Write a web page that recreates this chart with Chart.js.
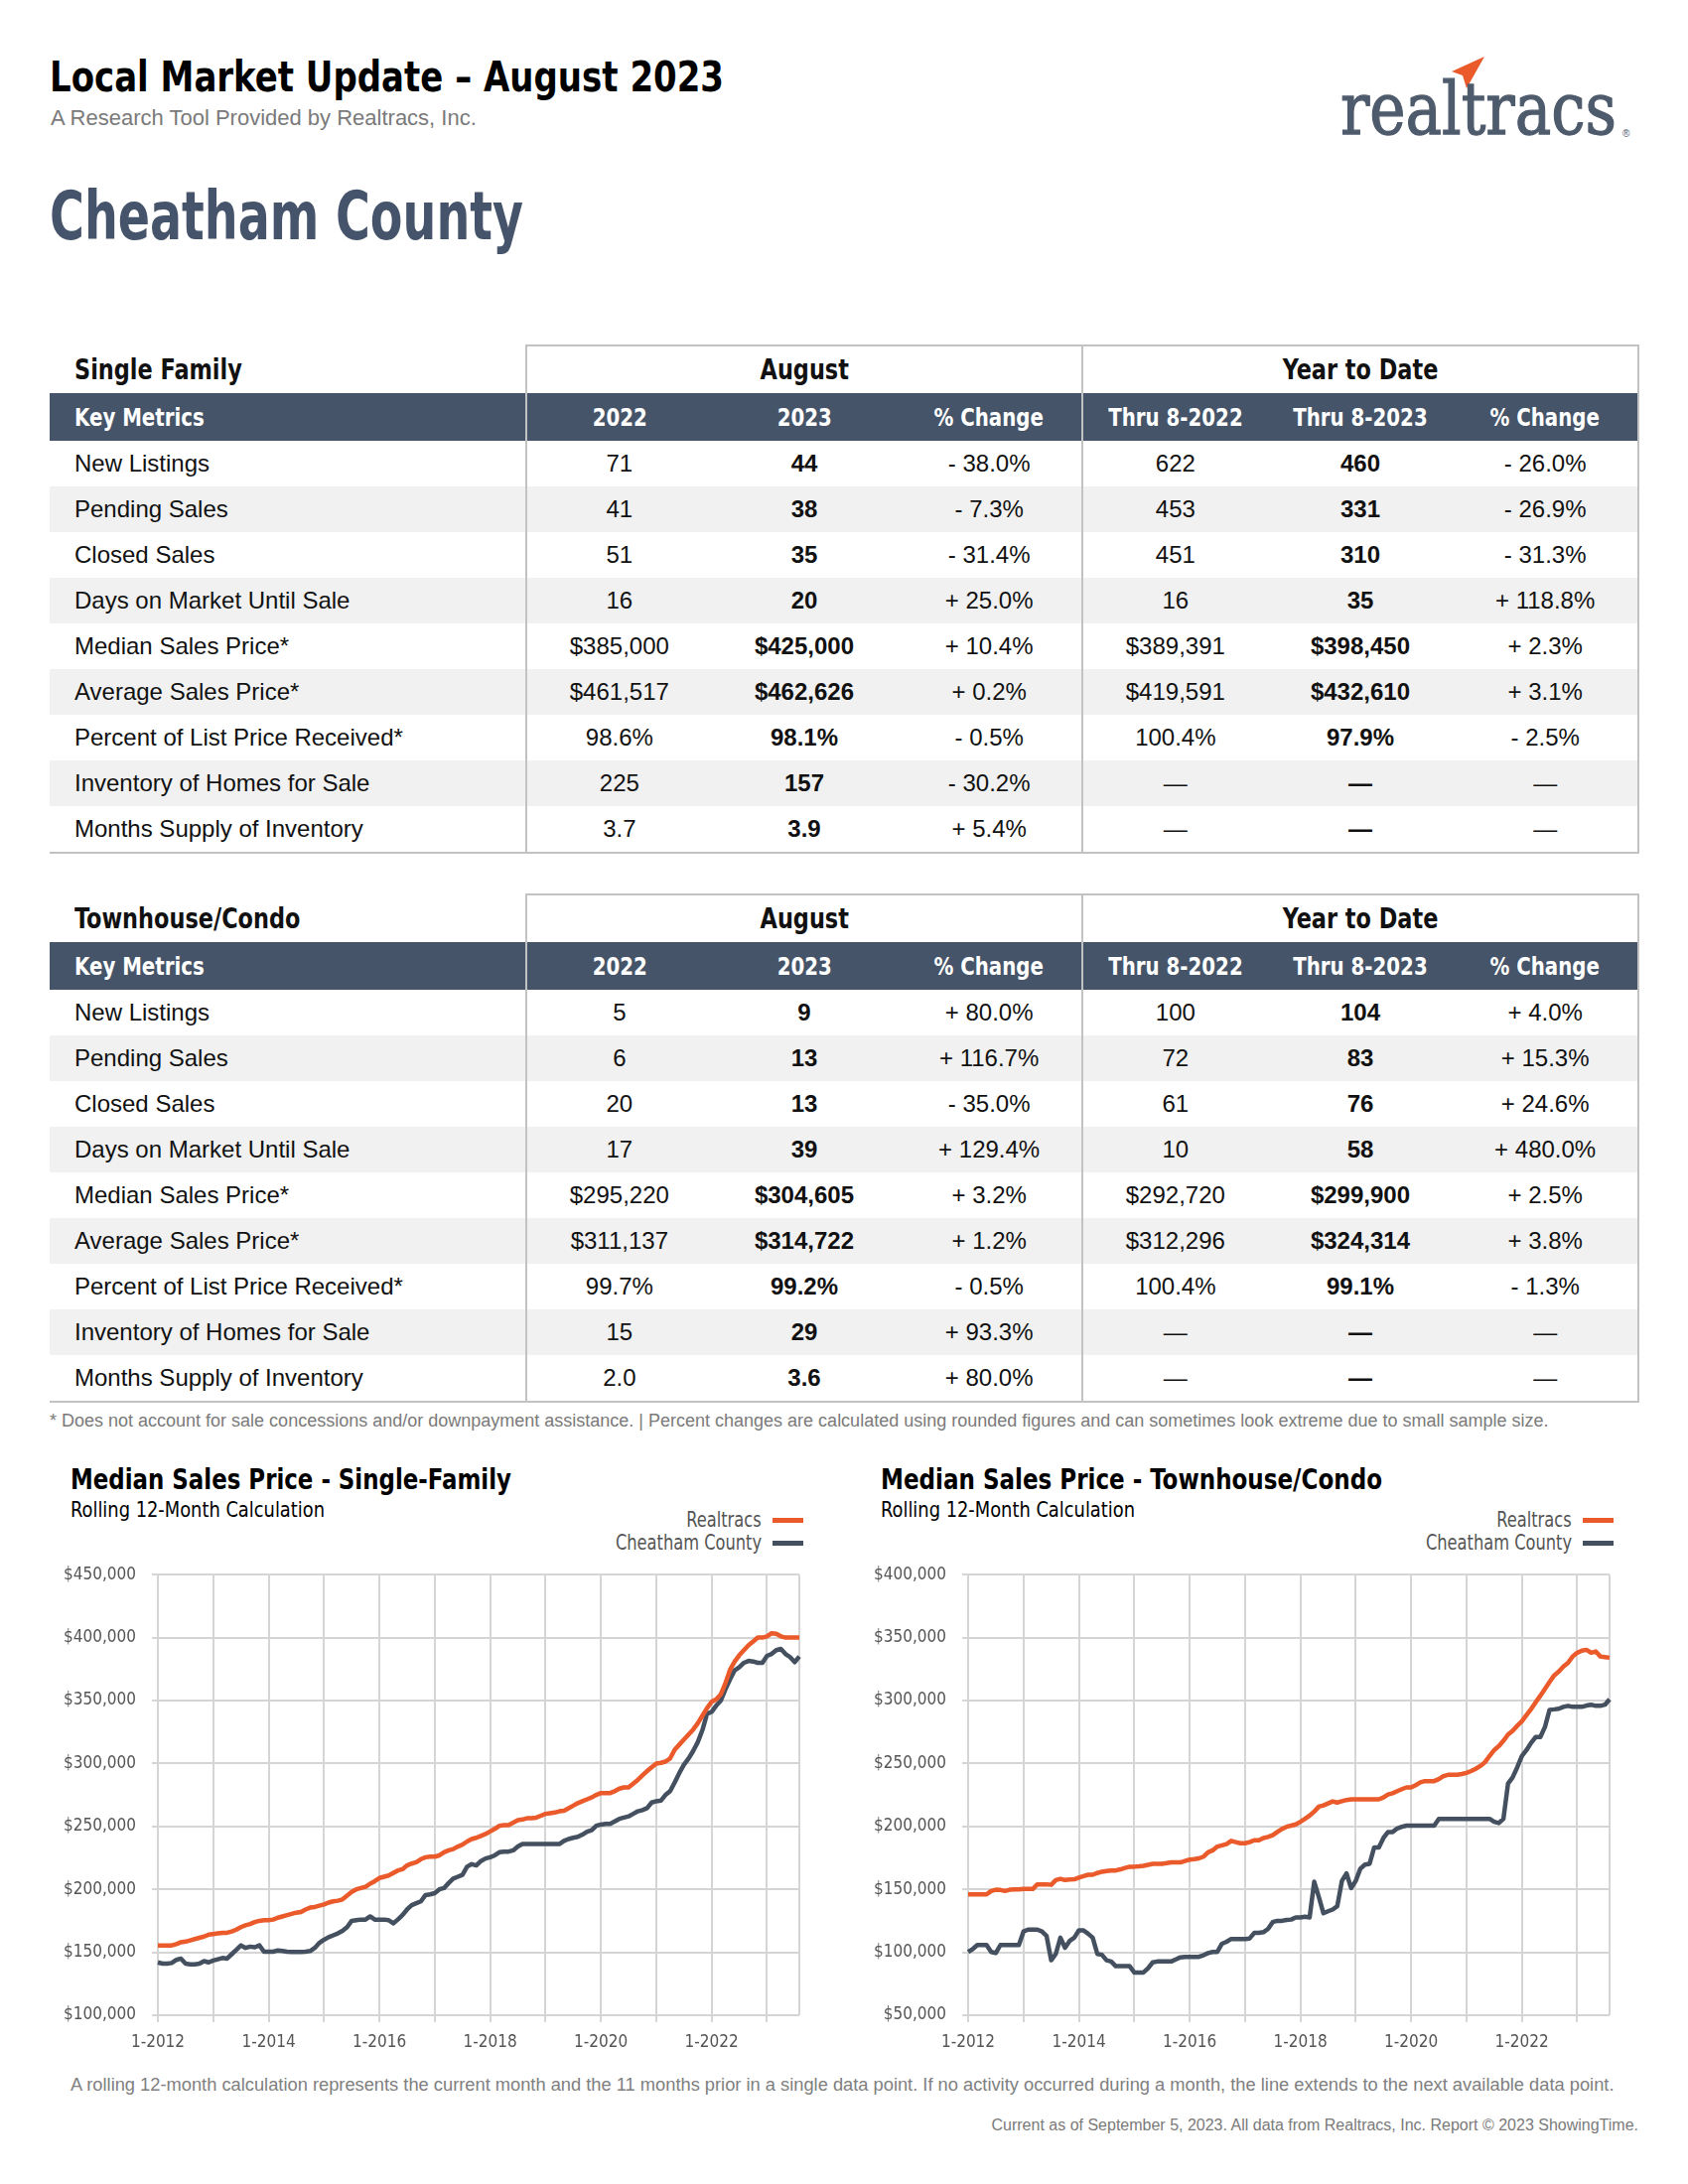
<!DOCTYPE html>
<html>
<head>
<meta charset="utf-8">
<script src="https://cdn.jsdelivr.net/npm/chart.js@4.4.0/dist/chart.umd.min.js"></script>
<style>
  body { margin: 0; background: #fff; }
  #page { position: relative; width: 1700px; height: 2200px; overflow: hidden; font-family: 'Liberation Sans', Arial, sans-serif; color: #111; }
  .abs { position: absolute; line-height: 1; white-space: nowrap; }
  .cond { font-family: 'Liberation Sans Narrow', 'DejaVu Sans Condensed', 'Arial Narrow', sans-serif; }
  .fit { display: inline-block; transform-origin: left top; }
  table.kt { position: absolute; left: 50px; width: 1600px; border-collapse: collapse; table-layout: fixed; font-size: 24px; }
  table.kt td { padding: 0; text-align: center; vertical-align: middle; height: 46px; white-space: nowrap; }
  table.kt tr.top td { height: 47px; font-weight: bold; font-size: 28px; }
  table.kt tr.bar td { height: 48px; background: #455468; color: #fff; font-weight: bold; font-size: 25px; }
  table.kt tr.alt td { background: #f1f1f1; }
  table.kt td.name { text-align: left; padding-left: 25px; }
  table.kt td.dv { border-left: 2px solid #c2c2c2; }
  table.kt td.rb { border-right: 2px solid #c2c2c2; }
  table.kt td.tb { border-top: 2px solid #c2c2c2; }
  table.kt tr.last td { border-bottom: 2px solid #c2c2c2; }
  table.kt td.b { font-weight: bold; }
  .sq { display: inline-block; transform: scaleX(0.88); }
  tr.top .sq { transform: scaleX(0.89); }
  td.name .sq { transform-origin: left center; }
  .legend { position: absolute; font-size: 21px; color: #555; text-align: right; line-height: 23px; }
  .legend div { display: flex; justify-content: flex-end; align-items: center; }
  .legend span.tx { display: inline-block; transform: scaleX(0.86); transform-origin: right center; }
  .legend span.ln { display: inline-block; width: 31px; height: 5px; margin-left: 11px; }
</style>
</head>
<body>
<div id="page">
  <div class="abs cond" style="left:50px; top:57px; font-size:42px; font-weight:bold; color:#000;"><span class="fit" data-w="679">Local Market Update – August 2023</span></div>
  <div class="abs" style="left:51px; top:108px; font-size:22px; color:#7a7a7a;">A Research Tool Provided by Realtracs, Inc.</div>

  <svg class="abs" style="left:1455px; top:50px;" width="50" height="45" viewBox="0 0 50 45">
    <polygon points="40,7 7,22 18,26 22,39" fill="#ea5a2a"/>
  </svg>
  <div class="abs" style="left:1350px; top:74px; font-family:'DejaVu Serif', serif; font-size:72px; color:#4e5b6c; -webkit-text-stroke:1.3px #4e5b6c;"><span class="fit" data-w="278">realtracs</span></div>
  <div class="abs" style="left:1634px; top:130px; font-size:10px; color:#4e5b6c;">®</div>

  <div class="abs cond" style="left:50px; top:184px; font-size:68px; font-weight:bold; color:#45546a;"><span class="fit" data-w="477">Cheatham County</span></div>

  <table class="kt" id="tblSF" style="top:347px;"></table>
  <table class="kt" id="tblTC" style="top:900px;"></table>

  <div class="abs" style="left:50px; top:1422px; font-size:18px; color:#7a7a7a;">* Does not account for sale concessions and/or downpayment assistance. | Percent changes are calculated using rounded figures and can sometimes look extreme due to small sample size.</div>

  <div class="abs cond" style="left:71px; top:1476px; font-size:29px; font-weight:bold; color:#000;"><span class="fit" data-w="444">Median Sales Price - Single-Family</span></div>
  <div class="abs cond" style="left:71px; top:1510px; font-size:22px; color:#000;"><span class="fit" data-w="256">Rolling 12-Month Calculation</span></div>
  <div class="legend cond" style="right:891px; top:1520px;">
    <div><span class="tx">Realtracs</span><span class="ln" style="background:#ea5a2a"></span></div>
    <div><span class="tx">Cheatham County</span><span class="ln" style="background:#44505f"></span></div>
  </div>
  <canvas id="chartSF" class="abs" style="left:40px; top:1560px;" width="775" height="520"></canvas>

  <div class="abs cond" style="left:887px; top:1476px; font-size:29px; font-weight:bold; color:#000;"><span class="fit" data-w="505">Median Sales Price - Townhouse/Condo</span></div>
  <div class="abs cond" style="left:887px; top:1510px; font-size:22px; color:#000;"><span class="fit" data-w="256">Rolling 12-Month Calculation</span></div>
  <div class="legend cond" style="right:75px; top:1520px;">
    <div><span class="tx">Realtracs</span><span class="ln" style="background:#ea5a2a"></span></div>
    <div><span class="tx">Cheatham County</span><span class="ln" style="background:#44505f"></span></div>
  </div>
  <canvas id="chartTC" class="abs" style="left:856px; top:1560px;" width="775" height="520"></canvas>

  <div class="abs" style="left:71px; top:2091px; font-size:18.3px; color:#808080;">A rolling 12-month calculation represents the current month and the 11 months prior in a single data point. If no activity occurred during a month, the line extends to the next available data point.</div>
  <div class="abs" style="right:50px; top:2133px; font-size:16px; color:#7a7a7a;">Current as of September 5, 2023. All data from Realtracs, Inc. Report © 2023 ShowingTime.</div>
</div>

<script>
// ---- table data ----
const metricNames = ['New Listings', 'Pending Sales', 'Closed Sales', 'Days on Market Until Sale', 'Median Sales Price*',
    'Average Sales Price*', 'Percent of List Price Received*', 'Inventory of Homes for Sale', 'Months Supply of Inventory'];

const sfAug2022 = ['71', '41', '51', '16', '$385,000', '$461,517', '98.6%', '225', '3.7'];
const sfAug2023 = ['44', '38', '35', '20', '$425,000', '$462,626', '98.1%', '157', '3.9'];
const sfAugChg = ['- 38.0%', '- 7.3%', '- 31.4%', '+ 25.0%', '+ 10.4%', '+ 0.2%', '- 0.5%', '- 30.2%', '+ 5.4%'];
const sfYtd2022 = ['622', '453', '451', '16', '$389,391', '$419,591', '100.4%', '—', '—'];
const sfYtd2023 = ['460', '331', '310', '35', '$398,450', '$432,610', '97.9%', '—', '—'];
const sfYtdChg = ['- 26.0%', '- 26.9%', '- 31.3%', '+ 118.8%', '+ 2.3%', '+ 3.1%', '- 2.5%', '—', '—'];

const tcAug2022 = ['5', '6', '20', '17', '$295,220', '$311,137', '99.7%', '15', '2.0'];
const tcAug2023 = ['9', '13', '13', '39', '$304,605', '$314,722', '99.2%', '29', '3.6'];
const tcAugChg = ['+ 80.0%', '+ 116.7%', '- 35.0%', '+ 129.4%', '+ 3.2%', '+ 1.2%', '- 0.5%', '+ 93.3%', '+ 80.0%'];
const tcYtd2022 = ['100', '72', '61', '10', '$292,720', '$312,296', '100.4%', '—', '—'];
const tcYtd2023 = ['104', '83', '76', '58', '$299,900', '$324,314', '99.1%', '—', '—'];
const tcYtdChg = ['+ 4.0%', '+ 15.3%', '+ 24.6%', '+ 480.0%', '+ 2.5%', '+ 3.8%', '- 1.3%', '—', '—'];

// ---- chart data (rolling 12-month median, $ thousands), 1-2012 .. 8-2023 ----
const sfRealtracs = [
    155.5, 155.5, 155.5, 155.5, 156.5, 158, 158.5, 159.5, 160.5, 161.5, 162.5, 164,
    164.5, 165, 165.5, 165.5, 166.5, 168, 170, 171.5, 172.5, 174, 175, 175.5,
    175.5, 176, 177.5, 178.5, 179.5, 180.5, 181.5, 182, 184, 185.5, 186, 187,
    188, 189.5, 190.5, 191, 192, 195, 198, 200, 201, 202, 204.5, 206.5,
    209, 210, 211, 213, 215, 216, 219, 220.5, 221.5, 224, 225.5, 226,
    226, 227, 229.5, 231, 232, 234, 235.5, 238, 240, 241, 242.5, 244,
    246, 248, 250.5, 251, 251, 253, 255, 255.5, 256.5, 256.5, 257, 258.5,
    260, 260.5, 261, 262, 262.5, 264.5, 266.5, 268.5, 270, 271.5, 273, 275,
    276.5, 276.5, 276.5, 278, 280, 281, 281, 284, 287, 290.5, 294, 297,
    300, 300.5, 301.5, 304, 311, 315, 319, 323, 327, 332, 338, 344,
    349, 351, 355, 364, 374.5, 381, 386, 390, 394, 397, 400, 400,
    401, 403.5, 403, 401, 400, 400, 400, 400
];
const sfCounty = [
    142, 141, 141, 141.5, 144, 145, 141, 140.5, 140.5, 141, 143, 142,
    143.5, 144.5, 145.5, 145, 148.5, 152, 155.5, 153.5, 154.5, 154, 155.5, 150.5,
    150.5, 150.5, 151.5, 151, 150.5, 150.2, 150.2, 150.2, 150.5, 151, 153.5, 157.5,
    160, 162, 163.5, 165, 167, 170, 175, 175.5, 176, 176, 178.5, 176,
    176, 176, 175.5, 173, 176, 179.5, 184, 187.5, 189, 190.5, 195.5, 196,
    197, 200, 201, 205, 208.5, 210, 211.5, 218, 220, 219, 222.5, 224.5,
    225.5, 227, 229.5, 230, 230, 231, 234, 236, 236, 236, 236, 236,
    236, 236, 236, 236, 238.5, 240, 241, 241.7, 243.5, 245.8, 247, 250.5,
    251.5, 252, 252, 254, 256, 257, 258, 260, 262, 263, 264.5, 269,
    270, 270.5, 275, 278, 285, 292.5, 299, 304, 310, 317, 326.5, 339.5,
    341, 346, 350, 359, 367, 374, 376.5, 380, 381.5, 381, 380, 380,
    385.5, 387, 390, 391, 387, 384.5, 380.5, 385
];
const tcRealtracs = [
    146, 146, 146, 146, 146, 148.7, 149.7, 149.5, 148.7, 149.7, 150, 150,
    150.3, 150.3, 150.3, 154, 154, 154, 153.6, 157.4, 158.4, 157.4, 157.8, 158,
    159.4, 160.5, 161.6, 161.6, 163, 164, 164.5, 164.9, 165, 165.9, 167, 168,
    168, 168.3, 168.7, 169.5, 170.3, 170.3, 170.3, 170.8, 171.4, 171.4, 171.4, 172.5,
    173.6, 174, 174.6, 176, 179.4, 181, 184, 185, 186, 188.5, 187.5, 186.6,
    186.6, 187.5, 189, 189, 190.8, 191.7, 193, 195.6, 198, 199.7, 200.6, 201.6,
    203.7, 206, 208.6, 211.8, 215.7, 216.7, 218.3, 219.9, 219, 220, 221, 221.5,
    221.5, 221.5, 221.5, 221.5, 221.5, 221.5, 223, 225.4, 226.4, 228, 229.6, 231,
    231, 232.8, 235, 236, 236, 236, 237.6, 240, 241, 241, 241, 241.6,
    242.5, 244, 245.8, 248, 251, 256, 260.6, 263.8, 268, 273, 276, 280,
    283.5, 288.4, 293.2, 298.7, 303.8, 309.3, 314.8, 320, 323, 327, 330, 335,
    338, 339.6, 340.3, 338, 339, 335, 334.5, 334
];
const tcCounty = [
    100.3, 102.6, 105.8, 105.8, 105.8, 100.3, 99.4, 105.8, 105.8, 105.8, 105.8, 105.8,
    116.5, 118, 118, 118, 116.5, 113, 93.7, 98.7, 111.6, 103.6, 109, 111.6,
    117.4, 117.4, 114.8, 111.6, 98.7, 98, 93.7, 92.7, 89, 89, 89, 89,
    84, 84, 84, 87.4, 92, 92.7, 92.7, 92.7, 92.7, 94.4, 96, 96.4,
    96.4, 96.4, 96.4, 97.7, 99.4, 100.3, 100.3, 106.8, 108.4, 110.6, 110.6, 110.6,
    110.6, 111, 115.4, 115.4, 116, 118.6, 124, 125, 125, 125.7, 126, 127.7,
    127.7, 128.3, 127.7, 156, 144, 131, 132.6, 134, 136.7, 156.8, 162.6, 151,
    156.8, 166.4, 169.7, 170.3, 183.3, 183.3, 190.8, 195.6, 195.6, 198.4, 199.7, 200.6,
    200.6, 200.6, 200.6, 200.6, 200.6, 200.6, 206, 206, 206, 206, 206, 206,
    206, 206, 206, 206, 206, 206, 203.7, 202.7, 206, 234, 239, 247,
    256, 260.6, 266.4, 271, 271, 279, 292.6, 293, 293.5, 295, 295.8, 295,
    295, 295, 296, 296.7, 295.8, 295.8, 296.7, 301
];

const tickLabels = ['1-2012', '1-2014', '1-2016', '1-2018', '1-2020', '1-2022'];
const sfAxis = [100, 450];
const tcAxis = [50, 400];

// month categories 1-2012 .. 8-2023
const months = [];
for (let y = 2012; y <= 2023; y++) {
    for (let m = 1; m <= 12; m++) {
        if (y === 2023 && m > 8) break;
        months.push(m + '-' + y);
    }
}

function sq(txt) {
    return '<span class="sq">' + txt + '</span>';
}

function buildTable(id, title, cols) {
    const t = document.getElementById(id);
    let html = '<colgroup><col style="width:480px">';
    for (let i = 0; i < 6; i++) html += '<col style="width:186.66px">';
    html += '</colgroup>';
    html += '<tr class="top cond"><td class="name cond">' + sq(title) + '</td>' +
        '<td colspan="3" class="dv tb cond">' + sq('August') + '</td>' +
        '<td colspan="3" class="dv tb rb cond">' + sq('Year to Date') + '</td></tr>';
    const bar = ['Key Metrics', '2022', '2023', '% Change', 'Thru 8-2022', 'Thru 8-2023', '% Change'];
    const barCls = ['name', 'dv', '', '', 'dv', '', 'rb'];
    html += '<tr class="bar">' + bar.map((b, i) => '<td class="cond ' + barCls[i] + '">' + sq(b) + '</td>').join('') + '</tr>';
    metricNames.forEach((name, i) => {
        let cls = (i % 2 === 1 ? 'alt' : '') + (i === metricNames.length - 1 ? ' last' : '');
        html += '<tr class="' + cls + '"><td class="name">' + name + '</td>' +
            '<td class="dv">' + cols[0][i] + '</td><td class="b">' + cols[1][i] + '</td><td>' + cols[2][i] + '</td>' +
            '<td class="dv">' + cols[3][i] + '</td><td class="b">' + cols[4][i] + '</td><td class="rb">' + cols[5][i] + '</td></tr>';
    });
    t.innerHTML = html;
}

buildTable('tblSF', 'Single Family', [sfAug2022, sfAug2023, sfAugChg, sfYtd2022, sfYtd2023, sfYtdChg]);
buildTable('tblTC', 'Townhouse/Condo', [tcAug2022, tcAug2023, tcAugChg, tcYtd2022, tcYtd2023, tcYtdChg]);

// squeeze condensed headings to the widths of the original
document.querySelectorAll('.fit').forEach(el => {
    const w = el.getBoundingClientRect().width;
    const target = parseFloat(el.dataset.w);
    if (w > 0) el.style.transform = 'scaleX(' + (target / w) + ')';
});

const condFont = "'Liberation Sans Narrow', 'DejaVu Sans Condensed', 'Arial Narrow', sans-serif";
const gridCol = '#d5d5d5';

function makeChart(canvasId, realtracs, county, axis) {
    const ctx = document.getElementById(canvasId).getContext('2d');
    const last = months.length - 1;
    return new Chart(ctx, {
        type: 'line',
        data: {
            labels: months,
            datasets: [
                { label: 'Realtracs', data: realtracs, borderColor: '#ea5a2a', borderWidth: 4.5, pointRadius: 0, tension: 0, borderJoinStyle: 'round' },
                { label: 'Cheatham County', data: county, borderColor: '#44505f', borderWidth: 4.5, pointRadius: 0, tension: 0, borderJoinStyle: 'round' }
            ]
        },
        options: {
            responsive: false,
            animation: false,
            layout: { padding: { top: 18, right: 6, left: 0, bottom: 0 } },
            plugins: { legend: { display: false }, tooltip: { enabled: false } },
            scales: {
                x: {
                    type: 'category',
                    offset: false,
                    border: { display: false },
                    grid: {
                        lineWidth: 2,
                        tickLength: 7,
                        color: c => (c.index % 12 === 0 || c.index === last) ? gridCol : 'rgba(0,0,0,0)',
                        tickColor: c => (c.index % 12 === 0) ? gridCol : 'rgba(0,0,0,0)'
                    },
                    ticks: {
                        autoSkip: false,
                        maxRotation: 0,
                        padding: 10,
                        color: '#555',
                        font: { family: condFont, size: 17 },
                        callback: (v, i) => tickLabels.includes(months[i]) ? months[i] : ''
                    },
                    afterFit: s => { s.height = 50; }
                },
                y: {
                    min: axis[0],
                    max: axis[1],
                    border: { display: false },
                    grid: { lineWidth: 2, tickLength: 6, color: gridCol },
                    ticks: {
                        stepSize: 50,
                        padding: 16,
                        color: '#555',
                        font: { family: condFont, size: 17 },
                        callback: v => '$' + (v * 1000).toLocaleString('en-US')
                    },
                    afterFit: s => { s.width = 119; }
                }
            }
        }
    });
}

makeChart('chartSF', sfRealtracs, sfCounty, sfAxis);
makeChart('chartTC', tcRealtracs, tcCounty, tcAxis);
</script>
</body>
</html>
